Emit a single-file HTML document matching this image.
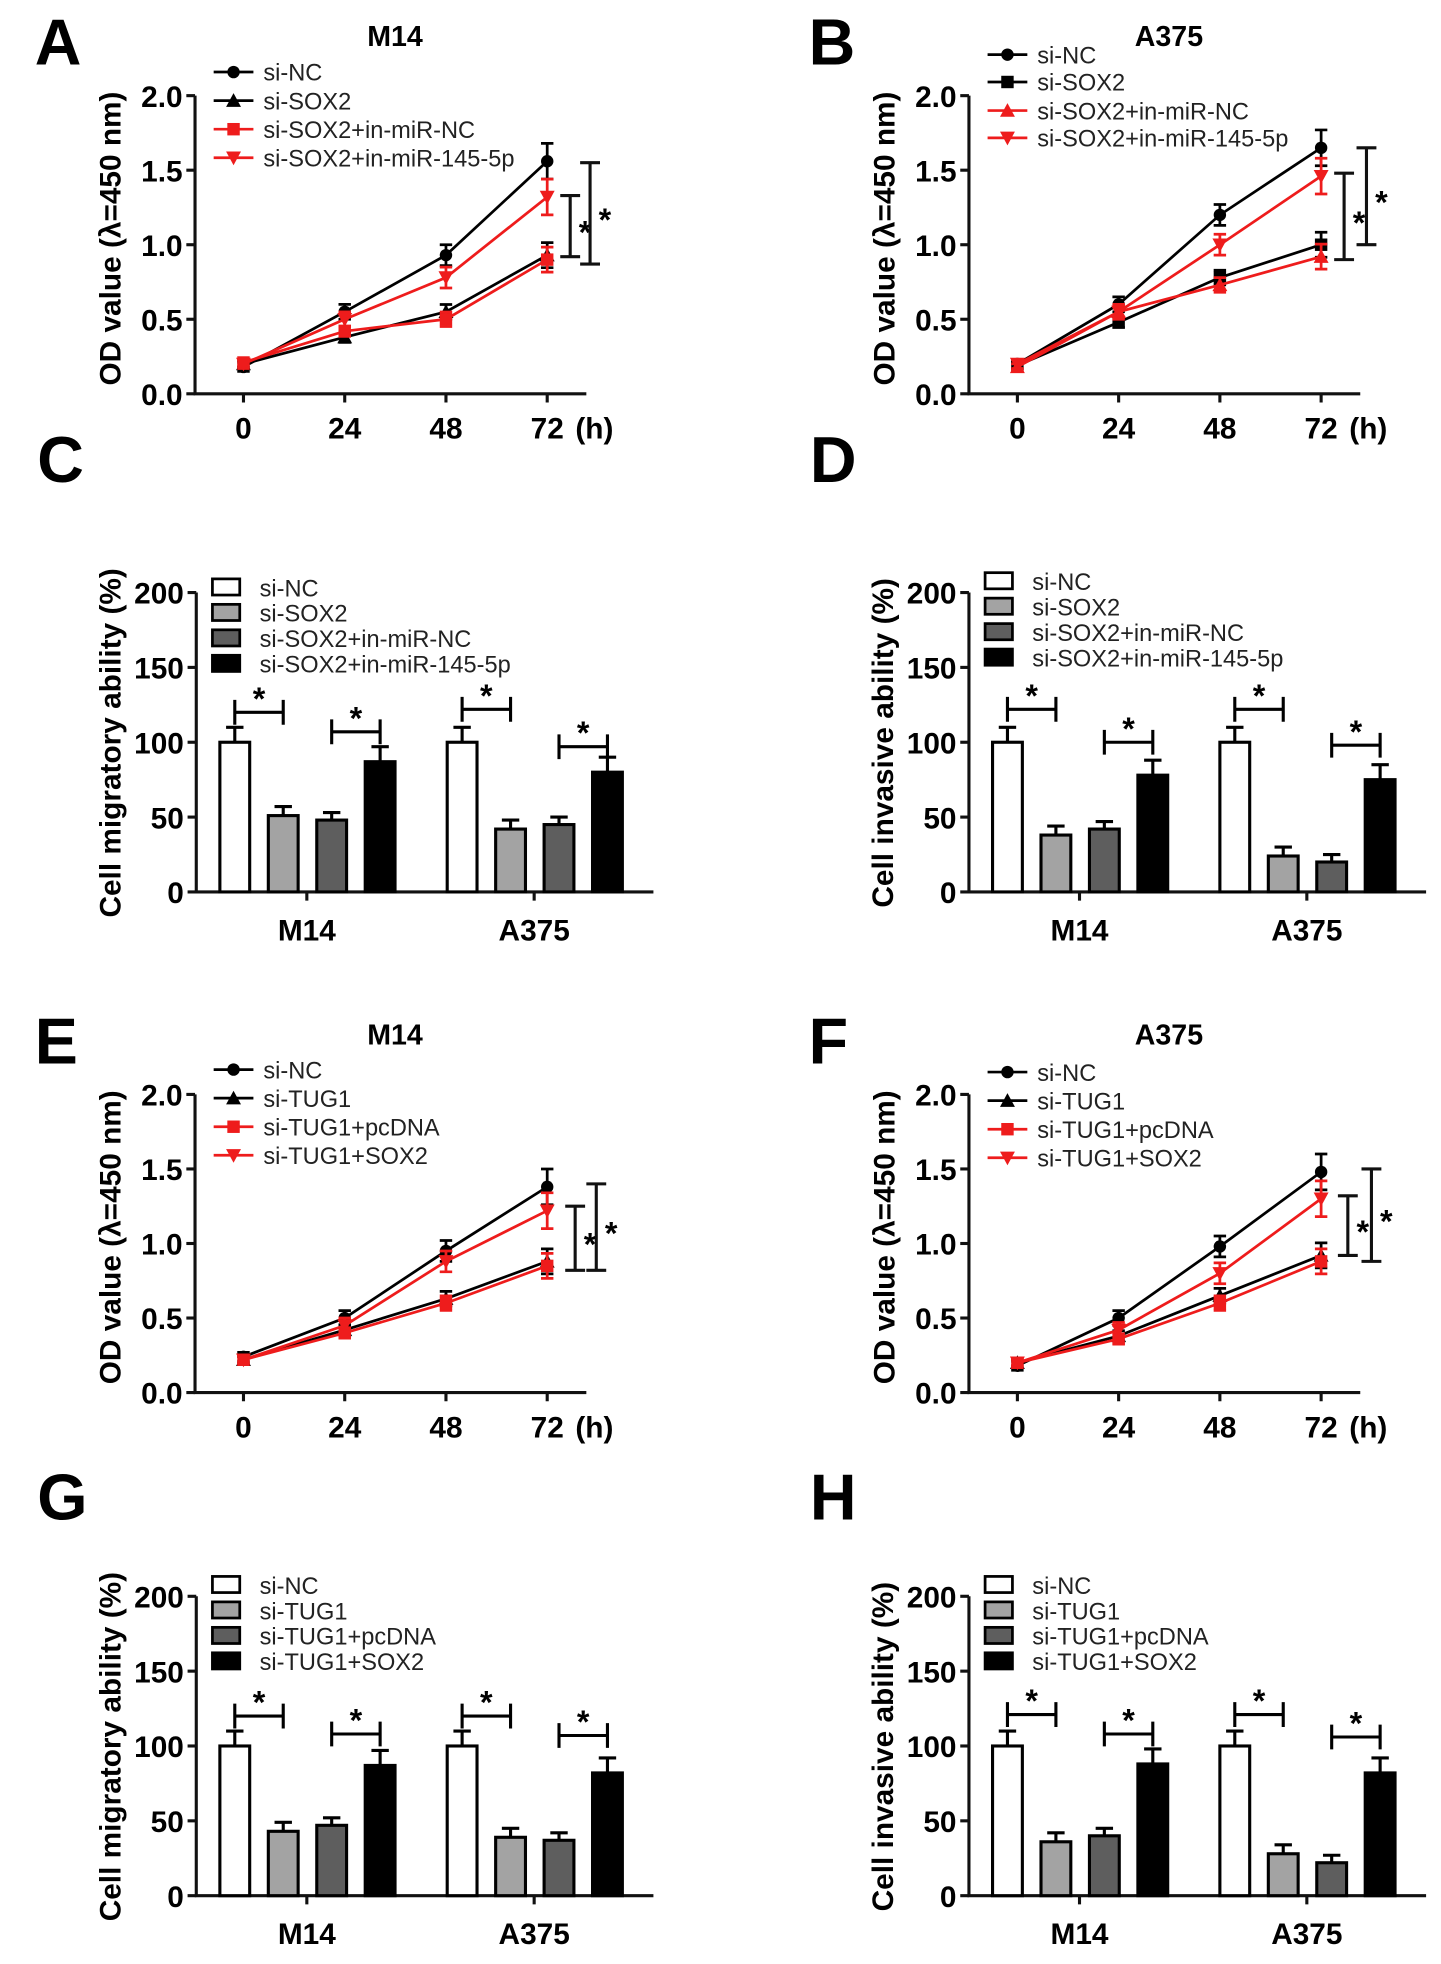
<!DOCTYPE html>
<html><head><meta charset="utf-8"><style>
html,body{margin:0;padding:0;background:#fff}
svg{display:block;font-family:"Liberation Sans",sans-serif}
</style></head><body>
<svg id="fig" width="1441" height="1964" viewBox="0 0 1160 1581" preserveAspectRatio="none" xmlns="http://www.w3.org/2000/svg"></svg>
<script>
// ---- Line chart data (OD values at 0,24,48,72 h) ----
const timeLabels = ["0","24","48","72"];
const odTicks = ["0.0","0.5","1.0","1.5","2.0"];
const A_names = ["si-NC","si-SOX2","si-SOX2+in-miR-NC","si-SOX2+in-miR-145-5p"];
const A_siNC = [0.18,0.55,0.93,1.56];
const A_s2 = [0.20,0.38,0.55,0.93];
const A_s3 = [0.21,0.42,0.50,0.90];
const A_s4 = [0.20,0.50,0.78,1.32];
const A_err = [0.03,0.05,0.07,0.12];
const B_siNC = [0.20,0.60,1.20,1.65];
const B_s2 = [0.19,0.48,0.78,1.00];
const B_s3 = [0.18,0.55,0.73,0.92];
const B_s4 = [0.20,0.55,1.00,1.46];
const E_names = ["si-NC","si-TUG1","si-TUG1+pcDNA","si-TUG1+SOX2"];
const E_siNC = [0.24,0.50,0.95,1.38];
const E_s2 = [0.22,0.42,0.63,0.88];
const E_s3 = [0.22,0.40,0.60,0.85];
const E_s4 = [0.22,0.45,0.88,1.22];
const F_siNC = [0.18,0.50,0.98,1.48];
const F_s2 = [0.20,0.38,0.65,0.92];
const F_s3 = [0.20,0.36,0.60,0.88];
const F_s4 = [0.20,0.42,0.80,1.30];
// ---- Bar chart data ----
const barGroups = ["M14","A375"];
const pctTicks = ["0","50","100","150","200"];
const C_M14 = [100,51,48,87];
const C_A375 = [100,42,45,80];
const D_M14 = [100,38,42,78];
const D_A375 = [100,24,20,75];
const G_M14 = [100,43,47,87];
const G_A375 = [100,39,37,82];
const H_M14 = [100,36,40,88];
const H_A375 = [100,28,22,82];
const barErr = [10,6,5,10];

const NS="http://www.w3.org/2000/svg";
const svg=document.getElementById('fig');
function mk(tag,attrs,parent){const e=document.createElementNS(NS,tag);for(const k in attrs)e.setAttribute(k,attrs[k]);(parent||svg).appendChild(e);return e;}
function txt(s,x,y,size,attrs,parent){const t=mk('text',Object.assign({x:x,y:y,'font-size':size},attrs||{}),parent);t.textContent=s;return t;}

function marker(g,type,x,y,color){
  let e;
  if(type==='circle'){e=mk('circle',{cx:x,cy:y,r:5,fill:color},g);}
  else if(type==='square'){e=mk('rect',{x:x-5,y:y-5,width:10,height:10,fill:color},g);}
  else if(type==='up'){e=mk('polygon',{points:`${x},${y-6} ${x-6},${y+5} ${x+6},${y+5}`,fill:color},g);}
  else {e=mk('polygon',{points:`${x},${y+6} ${x-6},${y-5} ${x+6},${y-5}`,fill:color},g);}
  
  
}

function lineChart(id,dx,dy,title,letter,names,series,types,colors,brackets,legYs){
  const g=mk('g',{});
  
  
  const ax=157+dx, y0=317+dy, yTop=77+dy;
  const X=i=>196+dx+81.5*i;
  const Y=v=>y0-(v/2)*(y0-yTop);
  const L=txt(letter,28+dx,52+dy,52,{'font-weight':'bold'},g);
  
  
  const T=txt(title,318+dx,37+dy,23,{'font-weight':'bold','text-anchor':'middle'},g);
  
  
  const axes=mk('path',{d:`M${ax} ${yTop} V${y0} H${ax+315}`,stroke:'#111','stroke-width':2.5,fill:'none'},g);
  
  
  odTicks.forEach((s,i)=>{const y=Y(parseFloat(s));
    mk('line',{x1:ax-7,x2:ax,y1:y,y2:y,stroke:'#111','stroke-width':2.5},g);
    const t=txt(s,ax-10,y+9,24,{'font-weight':'bold','text-anchor':'end'},g);
    
    });
  timeLabels.forEach((s,i)=>{const x=X(i);
    mk('line',{x1:x,x2:x,y1:y0,y2:y0+7,stroke:'#111','stroke-width':2.5},g);
    const t=txt(s,x,y0+36,24,{'font-weight':'bold','text-anchor':'middle'},g);
    
    });
  const h=txt('(h)',X(3)+38,y0+36,24,{'font-weight':'bold','text-anchor':'middle'},g);
  
  
  const yt=txt('OD value (λ=450 nm)',0,0,24,{'font-weight':'bold','text-anchor':'middle',transform:`translate(${97+dx},${y0-125}) rotate(-90)`},g);
  
  
  series.forEach((s,k)=>{
    const pts=s.map((v,i)=>`${X(i)},${Y(v)}`).join(' ');
    const pl=mk('polyline',{points:pts,fill:'none',stroke:colors[k],'stroke-width':2.2},g);
    
    
    s.forEach((v,i)=>{const x=X(i),e=A_err[i]*(k===0||k===3?1:0.7);
      mk('path',{d:`M${x} ${Y(v+e)} V${Y(v-e)} M${x-5} ${Y(v+e)} H${x+5} M${x-5} ${Y(v-e)} H${x+5}`,stroke:colors[k],'stroke-width':2.2,fill:'none'},g);
      marker(g,types[k],x,Y(v),colors[k]);});
  });
  brackets.forEach(b=>{const x=b[0]+dx;
    const br=mk('path',{d:`M${x} ${Y(b[1])} V${Y(b[2])} M${x-8} ${Y(b[1])} H${x+8} M${x-8} ${Y(b[2])} H${x+8}`,stroke:'#111','stroke-width':2.5,fill:'none'},g);
    
    
    const st=txt('*',x+12,Y((b[1]+b[2])/2)+14,26,{'font-weight':'bold','text-anchor':'middle'},g);
    
    });
  names.forEach((n,k)=>{const ly=legYs[k]+dy;
    const lx=172+dx;
    const le=mk('g',{},g);
    
    
    mk('line',{x1:lx,x2:lx+32,y1:ly,y2:ly,stroke:colors[k],'stroke-width':2.2},le);
    marker(le,types[k],lx+16,ly,colors[k]);
    txt(n,lx+40,ly+7,19,{fill:'#222'},le);});
}

function barChart(id,dx,dy,letterDy,letter,names,m,a,ytitle,brackets,legendDy){
  const g=mk('g',{});
  
  
  const ax=158+dx, y0=718+dy, yTop=477+dy;
  const Y=v=>y0-(v/200)*(y0-yTop);
  const fills=['#fff','#a3a3a3','#5e5e5e','#000'];
  const L=txt(letter,30+dx,388+letterDy,52,{'font-weight':'bold'},g);
  
  
  const axes=mk('path',{d:`M${ax} ${yTop} V${y0} H${ax+368}`,stroke:'#111','stroke-width':2.5,fill:'none'},g);
  
  
  pctTicks.forEach(s=>{const y=Y(parseFloat(s));
    mk('line',{x1:ax-7,x2:ax,y1:y,y2:y,stroke:'#111','stroke-width':2.5},g);
    const t=txt(s,ax-10,y+9,24,{'font-weight':'bold','text-anchor':'end'},g);
    
    });
  const yt=txt(ytitle,0,0,24,{'font-weight':'bold','text-anchor':'middle',transform:`translate(${97+dx},${y0-120}) rotate(-90)`},g);
  
  
  const groupStart=[189,372];
  [m,a].forEach((vals,gi)=>{
    const cx=groupStart[gi]+dx+58;
    mk('line',{x1:cx,x2:cx,y1:y0,y2:y0+7,stroke:'#111','stroke-width':2.5},g);
    const gl=txt(barGroups[gi],cx,y0+39,24,{'font-weight':'bold','text-anchor':'middle'},g);
    
    
    vals.forEach((v,i)=>{const x=groupStart[gi]+dx+39*i;
      const r=mk('rect',{x:x-12,y:Y(v),width:24,height:y0-Y(v),fill:fills[i],stroke:'#000','stroke-width':2.5},g);
      
      
      const e=barErr[i];
      mk('path',{d:`M${x} ${Y(v)} V${Y(v+e)} M${x-7} ${Y(v+e)} H${x+7}`,stroke:'#000','stroke-width':2.5,fill:'none'},g);});
    brackets[gi].forEach((b,j)=>{const x1=groupStart[gi]+dx+39*(2*j), x2=x1+39, y=Y(b);
      const br=mk('path',{d:`M${x1} ${y+10} V${y-10} M${x1} ${y} H${x2} M${x2} ${y+10} V${y-10}`,stroke:'#000','stroke-width':2.5,fill:'none'},g);
      
      
      const st=txt('*',(x1+x2)/2,y-2,26,{'font-weight':'bold','text-anchor':'middle'},g);
      
      });
  });
  names.forEach((n,k)=>{const ly=473+dy+legendDy+20.5*k, lx=171+dx;
    const le=mk('g',{},g);
    
    
    mk('rect',{x:lx,y:ly-7,width:22,height:13,fill:fills[k],stroke:'#000','stroke-width':2.2},le);
    txt(n,lx+38,ly+7,19,{fill:'#222'},le);});
}

const blk='#000', red='#ee1c1c';
const legA=[58,81,104,127], legB=[44,66,89,111];
lineChart('a',0,0,'M14','A',A_names,[A_siNC,A_s2,A_s3,A_s4],['circle','up','square','down'],[blk,blk,red,red],[[459,1.33,0.92],[475,1.55,0.87]],legA);
lineChart('b',623,0,'A375','B',A_names,[B_siNC,B_s2,B_s3,B_s4],['circle','square','up','down'],[blk,blk,red,red],[[459,1.48,0.9],[477,1.65,1.0]],legB);
lineChart('e',0,804,'M14','E',E_names,[E_siNC,E_s2,E_s3,E_s4],['circle','up','square','down'],[blk,blk,red,red],[[463,1.25,0.82],[480,1.4,0.82]],[62,85,108,131].map(v=>v-5));
lineChart('f',623,804,'A375','F',E_names,[F_siNC,F_s2,F_s3,F_s4],['circle','up','square','down'],[blk,blk,red,red],[[462,1.32,0.92],[481,1.5,0.88]],[62,85,108,131].map(v=>v-3));
barChart('c',0,0,0,'C',A_names,C_M14,C_A375,'Cell migratory ability (%)',[[120,107],[122,97]],0);
barChart('d',622,0,0,'D',A_names,D_M14,D_A375,'Cell invasive ability (%)',[[122,100],[122,98]],-5);
barChart('g',0,808,835,'G',E_names,G_M14,G_A375,'Cell migratory ability (%)',[[120,108],[120,107]],-5);
barChart('h',622,808,835,'H',E_names,H_M14,H_A375,'Cell invasive ability (%)',[[121,108],[121,106]],-5);
</script>
</body></html>
